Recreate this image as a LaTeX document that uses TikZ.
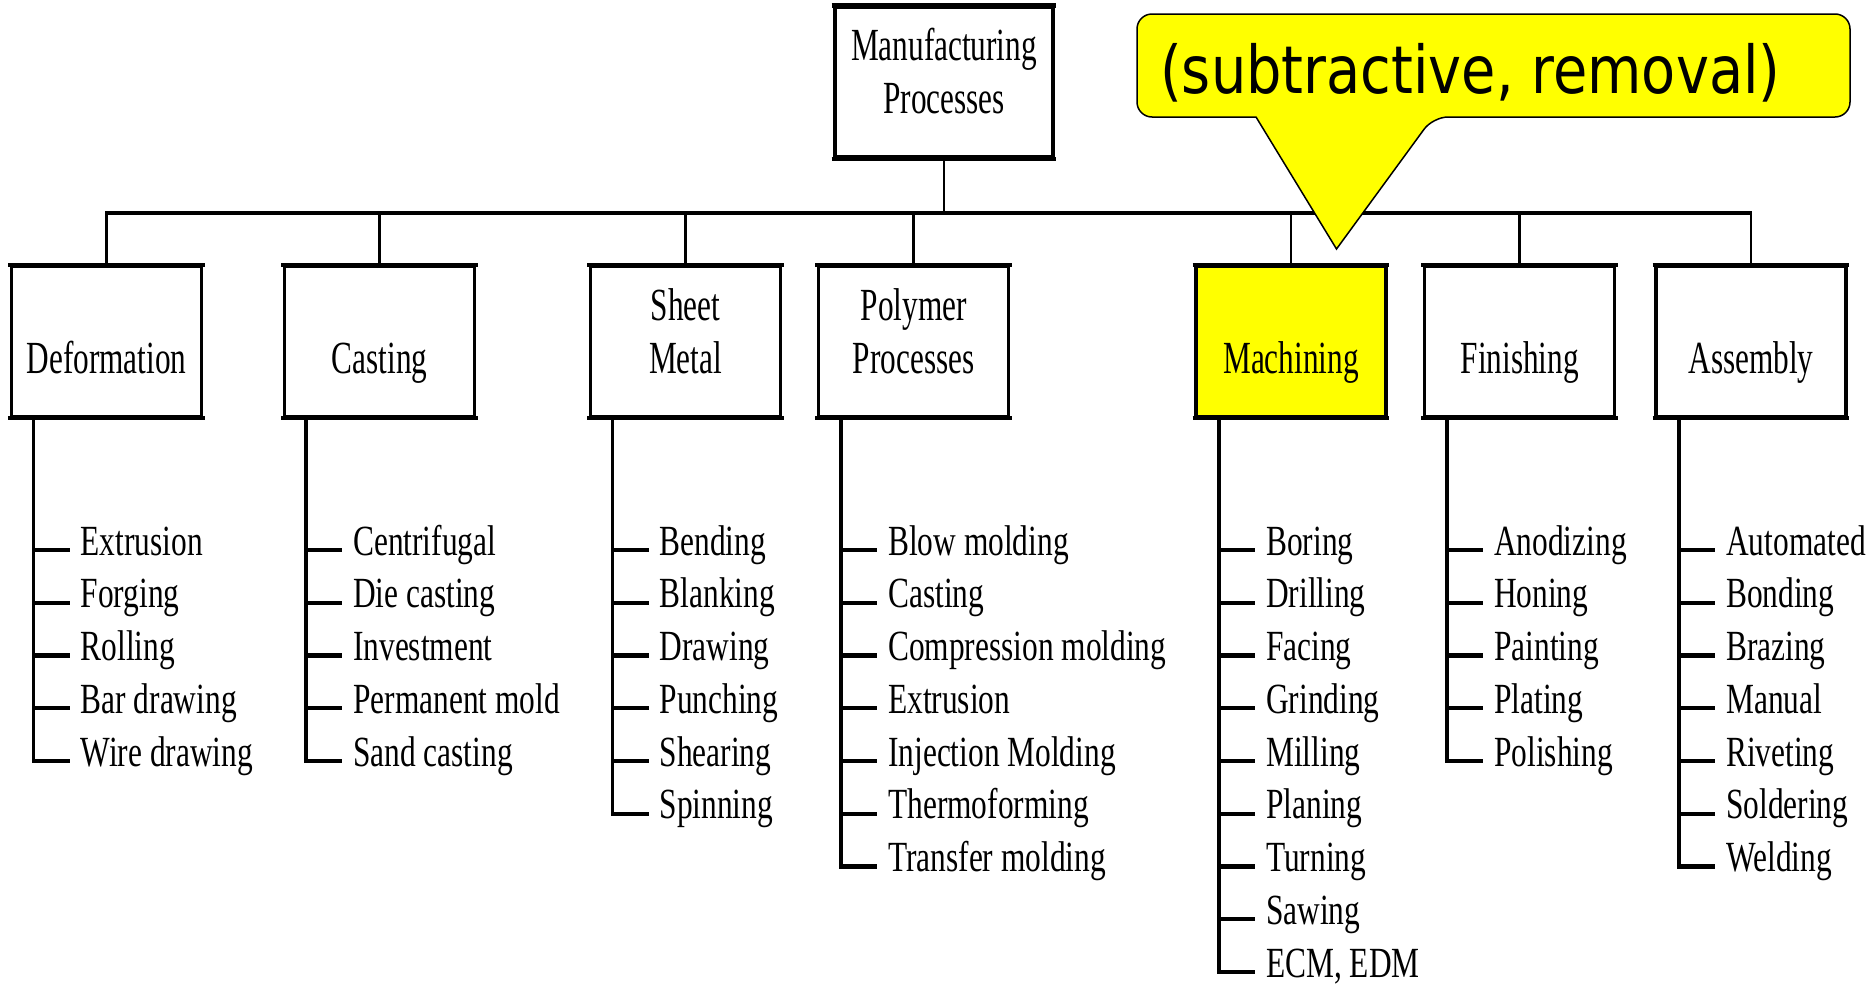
\documentclass[tikz,border=0pt]{standalone}
\usepackage{fontspec}
\setmainfont[FakeStretch=0.73]{Liberation Serif}
\newfontfamily\captionfont[FakeStretch=0.68]{Liberation Serif}
\newfontfamily\calloutfont[FakeStretch=0.845]{DejaVu Sans}
\definecolor{hilite}{RGB}{255,255,0}

% one column of sub-processes hanging below a category box
% #1 box name, #2 x of the vertical stem, #3 list of entries
\newcommand\branch[3]{%
  \coordinate (#1-s) at (#2,416.3);
  \foreach \t [count=\i] in {#3} {
    \pgfmathsetmacro\yy{550+(\i-1)*52.75}
    \node[entry] (#1-\i) at (#2+47,\yy+5) {\t};
    \draw[tick] ([xshift=-47pt,yshift=5pt]#1-\i.base west) -- ([xshift=-11pt,yshift=5pt]#1-\i.base west);
    \xdef\lastidx{\i}
  }
  \draw[stem] (#1-s) -- ([xshift=-47pt,yshift=3pt]#1-\lastidx.base west);
}

\begin{document}
\begin{tikzpicture}[x=1pt,y=-1pt,
  box/.style={draw, line width=3.3pt, minimum width=190pt, minimum height=150pt, inner sep=0pt},
  lbl/.style={font=\captionfont\fontsize{46}{52.75}\selectfont, inner sep=0pt, anchor=base},
  entry/.style={font=\fontsize{43}{52.75}\selectfont, inner sep=0pt, anchor=base west},
  conn/.style={line width=2.7pt},
  busline/.style={line width=4pt},
  tick/.style={line width=4.2pt},
  stem/.style={line width=3.3pt},
  edge/.style={line width=4.3pt},
  callout/.style={fill=hilite, draw=black, line width=1.5pt},
]
\useasboundingbox (0,0) rectangle (1874,983);

% category boxes
\node[box, minimum width=218pt] (mp) at (944,82) {};
\node[box] (def)   at (106.5,341.3) {};
\node[box] (cast)  at (379.5,341.3) {};
\node[box] (sheet) at (685.5,341.3) {};
\node[box] (poly)  at (913.7,341.3) {};
\node[box, fill=hilite] (mach) at (1291,341.3) {};
\node[box] (fin)   at (1519.7,341.3) {};
\node[box] (asm)   at (1751,341.3) {};
% heavier top and bottom rules on every box
\foreach \b in {mp,def,cast,sheet,poly,mach,fin,asm}
  \draw[edge] ([xshift=-1.65pt]\b.north west) -- ([xshift=1.65pt]\b.north east)
              ([xshift=-1.65pt]\b.south west) -- ([xshift=1.65pt]\b.south east);

% box captions
\node[lbl] (mp-t) at (944,113) {\begin{tabular}[b]{@{}c@{}}Manufacturing\\Processes\end{tabular}};
\node[lbl] (def-t)   at (106.5,373) {Deformation};
\node[lbl] (cast-t)  at (379.5,373) {Casting};
\node[lbl] (sheet-t) at (685.5,373) {\begin{tabular}[b]{@{}c@{}}Sheet\\Metal\end{tabular}};
\node[lbl] (poly-t)  at (913.7,373) {\begin{tabular}[b]{@{}c@{}}Polymer\\Processes\end{tabular}};
\node[lbl] (mach-t)  at (1291,373) {Machining};
\node[lbl] (fin-t)   at (1519.7,373) {Finishing};
\node[lbl] (asm-t)   at (1751,373) {Assembly};

% distribution bus
\coordinate (bus) at (0,212.7);
\draw[conn] (mp.south) -- (mp.south |- bus);
\foreach \b in {def,cast,sheet,poly,mach,fin,asm}
  \draw[conn] (\b.north) -- (\b.north |- bus);
\draw[busline] ([xshift=-1.35pt]def.north |- bus) -- ([xshift=1.35pt]asm.north |- bus);

% sub-process lists
\branch{def}{33.5}{Extrusion,Forging,Rolling,Bar drawing,Wire drawing}
\branch{cast}{306}{Centrifugal,Die casting,Investment,Permanent mold,Sand casting}
\branch{sheet}{612.5}{Bending,Blanking,Drawing,Punching,Shearing,Spinning}
\branch{poly}{841}{Blow molding,Casting,Compression molding,Extrusion,Injection Molding,Thermoforming,Transfer molding}
\branch{mach}{1219}{Boring,Drilling,Facing,Grinding,Milling,Planing,Turning,Sawing,{ECM, EDM}}
\branch{fin}{1447}{Anodizing,Honing,Painting,Plating,Polishing}
\branch{asm}{1679}{Automated,Bonding,Brazing,Manual,Riveting,Soldering,Welding}

% speech-bubble note pointing at the machining branch
\filldraw[callout] (1336.5,249) -- (1256,117) [rounded corners=15pt] -- (1137,117) -- (1137,14)
  -- (1850,14) -- (1850,117) -- (1433,117) [sharp corners] -- cycle;
\node[anchor=base west, inner sep=0pt, font=\calloutfont\fontsize{66}{79}\selectfont] (note)
  at (1160,93) {(subtractive, removal)};
\end{tikzpicture}
\end{document}
